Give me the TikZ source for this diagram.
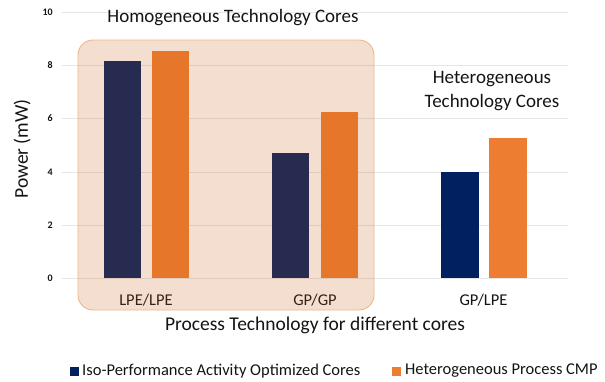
\documentclass[tikz,border=0pt]{standalone}
\usepackage{fontspec}
\setmainfont{Carlito}
\definecolor{navy}{RGB}{0,32,96}
\definecolor{orng}{RGB}{237,125,49}
\definecolor{shade}{RGB}{197,90,17}
\definecolor{shadeline}{RGB}{240,180,140}
\definecolor{gridc}{RGB}{230,230,230}
\definecolor{txt}{RGB}{20,20,20}
\tikzset{
  bar/.style={draw=none, inner sep=0pt, minimum width=37.5pt, anchor=south},
  tick/.style={font=\fontsize{10}{11}\selectfont\bfseries, text=txt, anchor=east, inner sep=0pt},
  cat/.style={font=\fontsize{16.5}{18}\selectfont, text=txt, inner sep=0pt},
  ttl/.style={font=\fontsize{19}{24}\selectfont, text=txt, inner sep=0pt, align=center},
  legtxt/.style={font=\fontsize{16.5}{18}\selectfont, text=txt, anchor=west, inner sep=0pt},
  legbox/.style={minimum size=9pt, inner sep=0pt, draw=none},
}
\begin{document}
\begin{tikzpicture}[x=1pt, y=-1pt]
\useasboundingbox (0,0) rectangle (605,381);
% grid lines and value labels
\foreach \v/\yy in {0/278,2/225,4/172,6/118,8/65,10/12} {
  \draw[gridc, line width=0.8pt] (62,\yy) -- (568,\yy);
  \node[tick] (t\v) at (53,\yy) {\v};
}
% bars (value v -> height 26.6v)
\node[bar, fill=navy, minimum height=217pt] (a1) at (122.5,278) {};
\node[bar, fill=orng, minimum height=226.5pt] (a2) at (170.5,278) {};
\node[bar, fill=navy, minimum height=125pt] (b1) at (290.5,278) {};
\node[bar, fill=orng, minimum height=166pt] (b2) at (339.5,278) {};
\node[bar, fill=navy, minimum height=105.5pt] (c1) at (460,278) {};
\node[bar, fill=orng, minimum height=140pt] (c2) at (508,278) {};
% category labels
\node[cat] (l1) at (146,300) {LPE/LPE};
\node[cat] (l2) at (315,300) {GP/GP};
\node[cat] (l3) at (483.5,300) {GP/LPE};
% homogeneous group highlight
\node[draw=shadeline, line width=0.9pt, fill=shade, fill opacity=0.2, draw opacity=1,
      rounded corners=15pt, minimum width=296pt, minimum height=270pt, inner sep=0pt]
      (grp) at (226,175) {};
% titles
\node[ttl] (h1) at (233,18) {Homogeneous Technology Cores};
\node[ttl] (h2) at (492,91) {Heterogeneous\\Technology Cores};
\node[ttl, font=\fontsize{19.5}{24}\selectfont] (xt) at (315,325) {Process Technology for different cores};
\node[ttl, font=\fontsize{19.5}{24}\selectfont, rotate=90] (yt) at (22,149) {Power (mW)};
% legend
\node[legbox, fill=navy] (k1) at (74.5,371) {};
\node[legtxt] (k1t) at (82,371) {Iso-Performance Activity Optimized Cores};
\node[legbox, fill=orng] (k2) at (396,371) {};
\node[legtxt] (k2t) at (405,371) {Heterogeneous Process CMP};
\end{tikzpicture}
\end{document}
